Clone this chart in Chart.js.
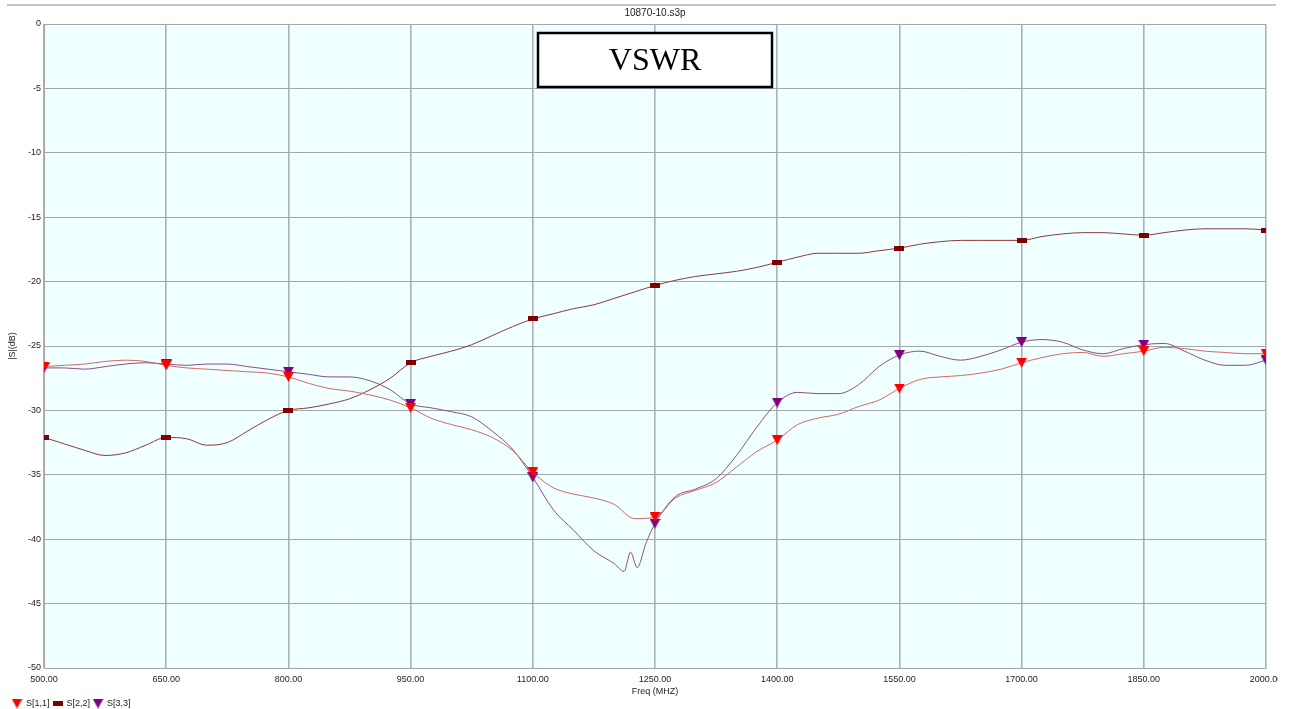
<!DOCTYPE html>
<html>
<head>
<meta charset="utf-8">
<title>10870-10.s3p</title>
<script src="https://cdn.jsdelivr.net/npm/chart.js"></script>
<style>
html, body { margin: 0; padding: 0; background: #fff; }
#wrap { position: relative; width: 1278px; height: 709px; overflow: hidden; }
#wrap canvas { position: absolute; left: 0; top: 0; }
</style>
</head>
<body>
<div id="wrap"><canvas id="sChart" width="1290" height="709"></canvas></div>
<script>
// frequency points (MHz)
const freq = [
  500, 525, 550, 575, 600, 625, 650, 675, 700, 725,
  750, 775, 800, 825, 850, 875, 900, 925, 950, 975,
  1000, 1025, 1050, 1075, 1100, 1125, 1150, 1175, 1200, 1225,
  1250, 1275, 1300, 1325, 1350, 1375, 1400, 1425, 1450, 1475,
  1500, 1525, 1550, 1575, 1600, 1625, 1650, 1675, 1700, 1725,
  1750, 1775, 1800, 1825, 1850, 1875, 1900, 1925, 1950, 1975,
  2000
]
const s11 = [
  -26.6, -26.5, -26.4, -26.2, -26.1, -26.2, -26.5, -26.7, -26.8, -26.9,
  -27.0, -27.1, -27.4, -27.9, -28.3, -28.5, -28.8, -29.2, -29.8, -30.6,
  -31.1, -31.5, -32.1, -33.1, -34.8, -36.0, -36.5, -36.8, -37.3, -38.4,
  -38.3, -36.8, -36.2, -35.6, -34.4, -33.2, -32.3, -31.1, -30.6, -30.3,
  -29.7, -29.2, -28.3, -27.6, -27.4, -27.3, -27.1, -26.8, -26.3, -25.9,
  -25.6, -25.5, -25.8, -25.6, -25.4, -25.1, -25.2, -25.4, -25.5, -25.6,
  -25.6
]
const s22 = [
  -32.1, -32.6, -33.1, -33.5, -33.3, -32.7, -32.1, -32.2, -32.7, -32.5,
  -31.6, -30.7, -30.0, -29.8, -29.5, -29.1, -28.4, -27.5, -26.3, -25.8,
  -25.4, -24.9, -24.2, -23.5, -22.9, -22.5, -22.1, -21.8, -21.3, -20.8,
  -20.3, -19.9, -19.6, -19.4, -19.2, -18.9, -18.5, -18.1, -17.8, -17.8,
  -17.8, -17.6, -17.4, -17.1, -16.9, -16.8, -16.8, -16.8, -16.8, -16.5,
  -16.3, -16.2, -16.2, -16.3, -16.4, -16.2, -16.0, -15.9, -15.9, -15.9,
  -16.0
]
// S[3,3] has a few extra points around its notch
const freq33 = [
  500, 525, 550, 575, 600, 625, 650, 675, 700, 725,
  750, 775, 800, 825, 850, 875, 900, 925, 950, 975,
  1000, 1025, 1050, 1075, 1100, 1125, 1150, 1175, 1200, 1212,
  1220, 1228, 1239, 1250, 1275, 1300, 1325, 1350, 1375, 1400,
  1425, 1450, 1475, 1500, 1525, 1550, 1575, 1600, 1625, 1650,
  1675, 1700, 1725, 1750, 1775, 1800, 1825, 1850, 1875, 1900,
  1925, 1950, 1975, 2000
]
const s33 = [
  -26.7, -26.7, -26.8, -26.6, -26.4, -26.3, -26.4, -26.5, -26.4, -26.4,
  -26.6, -26.8, -27.0, -27.2, -27.4, -27.4, -27.7, -28.4, -29.5, -29.8,
  -30.1, -30.5, -31.6, -33.0, -35.2, -37.7, -39.3, -40.9, -41.9, -42.5,
  -41.0, -42.2, -40.3, -38.8, -36.7, -36.1, -35.3, -33.5, -31.3, -29.4,
  -28.6, -28.7, -28.7, -28.0, -26.6, -25.7, -25.4, -25.8, -26.1, -25.8,
  -25.3, -24.7, -24.5, -24.7, -25.3, -25.6, -25.2, -24.9, -24.8, -25.4,
  -26.1, -26.5, -26.5, -26.1
]
const xTicks = [500, 650, 800, 950, 1100, 1250, 1400, 1550, 1700, 1850, 2000]
const yTicks = [0, -5, -10, -15, -20, -25, -30, -35, -40, -45, -50]

Chart.defaults.font.family = '"Liberation Sans", Arial, sans-serif'
Chart.defaults.color = '#222'

// marker images
function triangle(color){
    let c = document.createElement('canvas')
    c.width = 11; c.height = 10
    let g = c.getContext('2d')
    g.fillStyle = color
    g.beginPath()
    g.moveTo(0, 0); g.lineTo(11, 0); g.lineTo(5.5, 10)
    g.closePath()
    g.fill()
    return c
}
function bar(color){
    let c = document.createElement('canvas')
    c.width = 10; c.height = 5
    let g = c.getContext('2d')
    g.fillStyle = color
    g.fillRect(0, 0, 10, 5)
    return c
}

function pts(fs, vs){
    return fs.map((f, i) => ({x: f, y: vs[i]}))
}
// markers every 150 MHz like the original plot
function markerRadius(ctx){
    return ctx.raw && (ctx.raw.x - 500) % 150 === 0 ? 5 : 0
}

const gridColor = '#a3a7ab'

const chartBg = {
    id: 'chartBg',
    beforeDraw(chart){
        const {ctx, chartArea: a} = chart
        ctx.save()
        ctx.fillStyle = '#f0ffff'
        ctx.fillRect(a.left, a.top, a.right - a.left, a.bottom - a.top)
        ctx.fillStyle = '#c4c4c4'
        ctx.fillRect(7, 4, 1269, 2)
        ctx.restore()
    }
}

const vswrBox = {
    id: 'vswrBox',
    afterDraw(chart){
        const {ctx, chartArea: a} = chart
        const w = 234, h = 54
        const cx = (a.left + a.right) / 2
        const top = a.top + 9
        ctx.save()
        ctx.fillStyle = '#fff'
        ctx.fillRect(cx - w / 2, top, w, h)
        ctx.strokeStyle = '#000'
        ctx.lineWidth = 2.5
        ctx.strokeRect(cx - w / 2, top, w, h)
        ctx.fillStyle = '#000'
        ctx.font = '32px "Liberation Serif", "Times New Roman", serif'
        ctx.textAlign = 'center'
        ctx.textBaseline = 'middle'
        ctx.fillText('VSWR', cx, top + h / 2 + 2)
        ctx.restore()
    }
}

// small legend in the bottom-left corner
const seriesKey = {
    id: 'seriesKey',
    afterDraw(chart){
        const ctx = chart.ctx
        let x = 12
        const y = 703.5
        ctx.save()
        ctx.font = '9px "Liberation Sans", Arial, sans-serif'
        ctx.textBaseline = 'middle'
        ctx.fillStyle = '#222'
        chart.data.datasets.forEach(ds => {
            const img = ds.pointStyle
            ctx.drawImage(img, x + 5 - img.width / 2, y - img.height / 2)
            ctx.fillText(ds.label, x + 14, y)
            x = x + 14 + ctx.measureText(ds.label).width + 3
        })
        ctx.restore()
    }
}

let myChart = new Chart(document.getElementById('sChart'), {
    type: 'line',
    data: {
        datasets: [
            {
                label: 'S[1,1]',
                data: pts(freq, s11),
                borderColor: '#cf6a66',
                borderWidth: 1,
                pointStyle: triangle('#ff0000'),
                pointRadius: markerRadius,
                clip: 0
            },
            {
                label: 'S[2,2]',
                data: pts(freq, s22),
                borderColor: '#8a3a3a',
                borderWidth: 1,
                pointStyle: bar('#800000'),
                pointRadius: markerRadius,
                clip: 0
            },
            {
                label: 'S[3,3]',
                data: pts(freq33, s33),
                borderColor: '#8a4f86',
                borderWidth: 1,
                pointStyle: triangle('#800080'),
                pointRadius: markerRadius,
                clip: 0
            }
        ]
    },
    options: {
        responsive: false,
        animation: false,
        cubicInterpolationMode: 'monotone',
        layout: { padding: { left: 0, right: 24, top: 0, bottom: 0 } },
        plugins: {
            legend: { display: false },
            tooltip: { enabled: false },
            title: {
                display: true,
                text: '10870-10.s3p',
                fullSize: false,
                color: '#222',
                font: { size: 10, weight: 'normal' },
                padding: { top: 7, bottom: 5 }
            }
        },
        scales: {
            x: {
                type: 'linear',
                min: 500,
                max: 2000,
                afterBuildTicks: s => { s.ticks = xTicks.map(v => ({value: v})) },
                afterFit: s => { s.height = 41 },
                ticks: {
                    font: { size: 9 },
                    padding: 6,
                    maxRotation: 0,
                    autoSkip: false,
                    callback: v => v.toFixed(2)
                },
                // vertical lines look a bit wider and paler in the original
                grid: { color: '#abb1b7', lineWidth: 1.6, drawTicks: false },
                border: { color: gridColor },
                title: {
                    display: true,
                    text: 'Freq (MHZ)',
                    font: { size: 9 },
                    padding: { top: 0, bottom: 11.6 }
                }
            },
            y: {
                min: -50,
                max: 0,
                afterBuildTicks: s => { s.ticks = yTicks.map(v => ({value: v})) },
                afterFit: s => { s.width = 44 },
                ticks: { font: { size: 9 }, padding: 3 },
                grid: { color: gridColor, drawTicks: false },
                border: { color: gridColor },
                title: {
                    display: true,
                    text: '|S|(dB)',
                    font: { size: 9 },
                    padding: { top: 7.6, bottom: 0 }
                }
            }
        }
    },
    plugins: [chartBg, vswrBox, seriesKey]
})
</script>
</body>
</html>
